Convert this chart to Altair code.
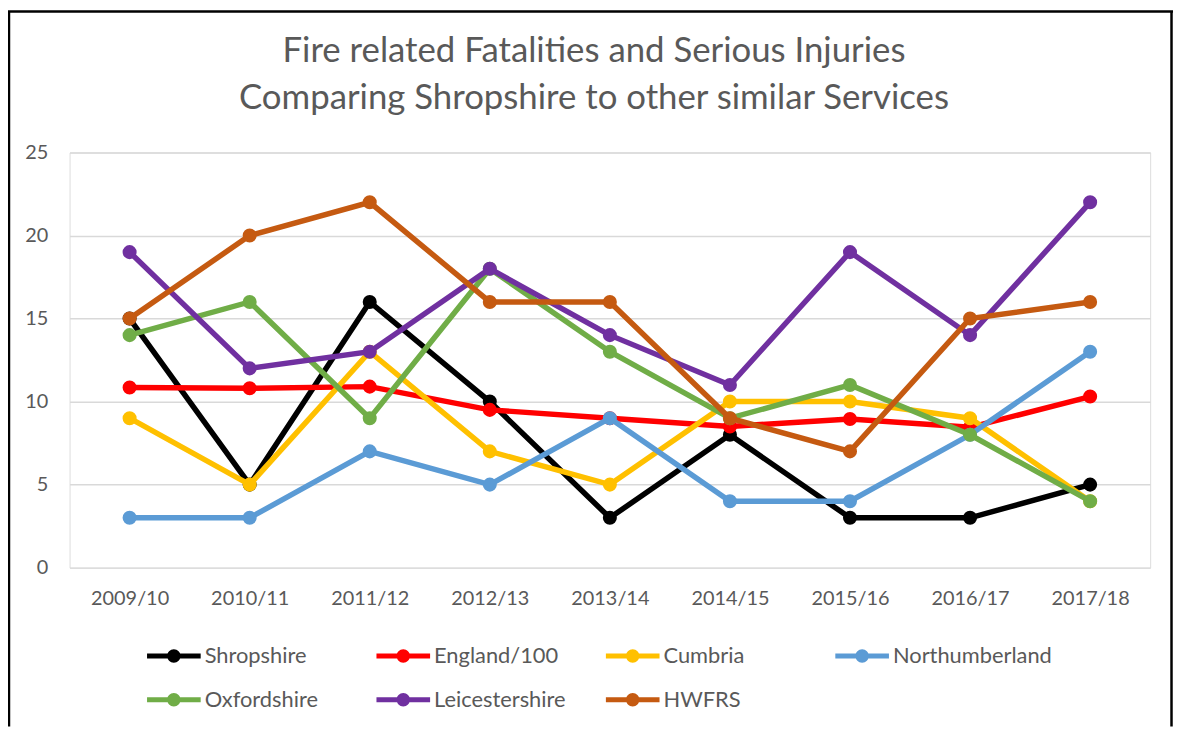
import altair as alt
import pandas as pd

years = ["2009/10", "2010/11", "2011/12", "2012/13", "2013/14", "2014/15", "2015/16", "2016/17", "2017/18"]
series_names = ["Shropshire", "England/100", "Cumbria", "Northumberland", "Oxfordshire", "Leicestershire", "HWFRS"]
shropshire = [15, 5, 16, 10, 3, 8, 3, 3, 5]
england_100 = [10.85, 10.8, 10.9, 9.5, 9.0, 8.5, 8.95, 8.45, 10.3]
cumbria = [9, 5, 13, 7, 5, 10, 10, 9, 4]
northumberland = [3, 3, 7, 5, 9, 4, 4, 8, 13]
oxfordshire = [14, 16, 9, 18, 13, 9, 11, 8, 4]
leicestershire = [19, 12, 13, 18, 14, 11, 19, 14, 22]
hwfrs = [15, 20, 22, 16, 16, 9, 7, 15, 16]
colors = ["#000000", "#FF0000", "#FFC000", "#5B9BD5", "#70AD47", "#7030A0", "#C55A11"]

values = [shropshire, england_100, cumbria, northumberland, oxfordshire, leicestershire, hwfrs]
rows = []
for name, vals in zip(series_names, values):
    for yr, v in zip(years, vals):
        rows.append({"year": yr, "series": name, "value": v})
df = pd.DataFrame(rows)

FONT = "Lato"
TXT = "#595959"

x_enc = alt.X("year:N", sort=years, title=None,
              scale=alt.Scale(padding=0.5),
              axis=alt.Axis(labelAngle=0, ticks=False, domain=False, grid=False,
                            labelFont=FONT, labelFontSize=20, labelColor=TXT, labelPadding=21))
y_enc = alt.Y("value:Q", title=None,
              scale=alt.Scale(domain=[0, 25], nice=False),
              axis=alt.Axis(values=[0, 5, 10, 15, 20, 25], ticks=False, domain=False,
                            gridColor="#D9D9D9", gridWidth=1.5,
                            labelFont=FONT, labelFontSize=20, labelColor=TXT, labelPadding=22))

legend_path = ("M-1,-0.09H1V0.09H-1Z "
               "M-0.25,0A0.25,0.25 0 1,1 0.25,0A0.25,0.25 0 1,1 -0.25,0Z")

color_enc = alt.Color("series:N", title=None,
                      scale=alt.Scale(domain=series_names, range=colors),
                      legend=alt.Legend(orient="none", legendX=78, legendY=480,
                                        direction="horizontal", columns=4, gridAlign="all",
                                        symbolType=legend_path, symbolSize=2916,
                                        symbolStrokeWidth=0, symbolOpacity=1,
                                        labelFont=FONT, labelFontSize=22, labelColor=TXT,
                                        labelOffset=4, columnPadding=12, rowPadding=6,
                                        labelLimit=300))

layers = []
for name, col in zip(series_names, colors):
    sub = alt.Chart(df).transform_filter(alt.datum.series == name)
    line = sub.mark_line(strokeWidth=5.5, color=col).encode(x=x_enc, y=y_enc)
    pts = sub.mark_point(filled=True, size=200, opacity=1, strokeWidth=0).encode(
        x=x_enc, y=y_enc, color=color_enc)
    layers += [line, pts]

one = pd.DataFrame({"k": [0]})
border_left = alt.Chart(one).mark_rule(color="#000000", strokeWidth=2.5).encode(
    x=alt.value(-61), x2=alt.value(-61), y=alt.value(-142), y2=alt.value(578))
border_top = alt.Chart(one).mark_rule(color="#000000", strokeWidth=2.5).encode(
    x=alt.value(-62), x2=alt.value(1111), y=alt.value(-142), y2=alt.value(-142))
border_right = alt.Chart(one).mark_rule(color="#000000", strokeWidth=2.5).encode(
    x=alt.value(1109.5), x2=alt.value(1109.5), y=alt.value(-142), y2=alt.value(578))

chart = alt.layer(*layers, border_left, border_top, border_right).properties(
    width=1088, height=418,
    autosize=alt.AutoSizeParams(type="none"),
    padding={"left": 62, "top": 143, "right": 23, "bottom": 160},
    title=alt.Title(["Fire related Fatalities and Serious Injuries",
                     "Comparing Shropshire to other similar Services"],
                    font=FONT, fontSize=35, fontWeight="normal", color=TXT,
                    lineHeight=47, anchor="middle", dx=-16, offset=-134,
                    baseline="alphabetic"),
).configure_view(stroke=None).configure(background="white")

chart.save("out.html", embed_options={"renderer": "svg", "actions": False})
